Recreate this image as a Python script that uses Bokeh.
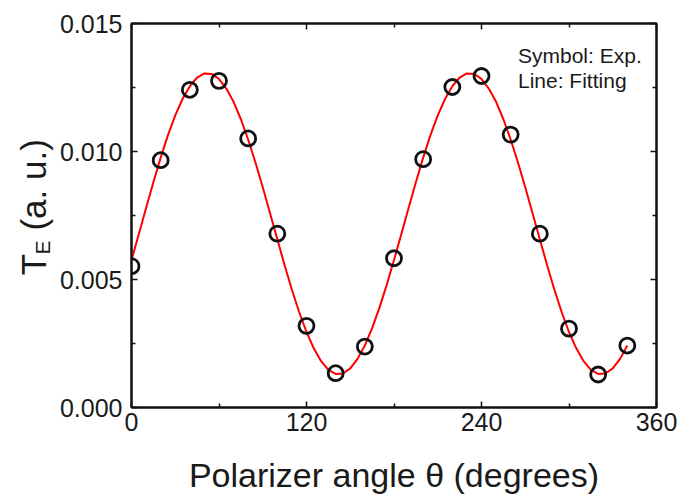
import math
from bokeh.plotting import figure
from bokeh.layouts import row
from bokeh.models import Label, LinearAxis, FixedTicker, NumeralTickFormatter
from bokeh.embed import file_html
from bokeh.resources import INLINE

# ---- data ----
angle_exp = [0, 20, 40, 60, 80, 100, 120, 140, 160, 180, 200, 220, 240, 260, 280, 300, 320, 340]
te_exp = [0.00552, 0.00966, 0.01241, 0.01276, 0.01051, 0.00679, 0.00319, 0.00134, 0.00238,
          0.00583, 0.00970, 0.01252, 0.01295, 0.01066, 0.00679, 0.00308, 0.00129, 0.00242]

angle_fit = [0, 5, 10, 15, 20, 25, 30, 35, 40, 45, 50, 55, 60, 65, 70, 75, 80, 85, 90,
             95, 100, 105, 110, 115, 120, 125, 130, 135, 140, 145, 150, 155, 160, 165, 170, 175,
             180, 185, 190, 195, 200, 205, 210, 215, 220, 225, 230, 235, 240, 245, 250, 255, 260,
             265, 270, 275, 280, 285, 290, 295, 300, 305, 310, 315, 320, 325, 330, 335, 340]
te_fit = [0.00576, 0.00677, 0.00779, 0.00880, 0.00976, 0.01064, 0.01141, 0.01205, 0.01255,
          0.01289, 0.01305, 0.01303, 0.01283, 0.01246, 0.01194, 0.01126, 0.01047, 0.00957,
          0.00860, 0.00759, 0.00657, 0.00556, 0.00460, 0.00372, 0.00295, 0.00231, 0.00181,
          0.00147, 0.00131, 0.00133, 0.00153, 0.00190, 0.00242, 0.00310, 0.00389, 0.00479,
          0.00576, 0.00677, 0.00779, 0.00880, 0.00976, 0.01064, 0.01141, 0.01205, 0.01255,
          0.01289, 0.01305, 0.01303, 0.01283, 0.01246, 0.01194, 0.01126, 0.01047, 0.00957,
          0.00860, 0.00759, 0.00657, 0.00556, 0.00460, 0.00372, 0.00295, 0.00231, 0.00181,
          0.00147, 0.00131, 0.00133, 0.00153, 0.00190, 0.00242]

x_major = [0, 120, 240, 360]
x_minor = [60, 180, 300]
y_major = [0.0, 0.005, 0.010, 0.015]
y_minor = [0.0025, 0.0075, 0.0125]

x_title = "Polarizer angle \u03b8 (degrees)"
y_title_main = "T"
y_title_sub = "E"
y_title_rest = "(a. u.)"
note_lines = ["Symbol: Exp.", "Line: Fitting"]

FONT = "Liberation Sans"
TOTAL_W, TOTAL_H = 677, 496
LABEL_W = 56                 # width of the strip holding the y title
FRAME_LEFT = 131.5           # canvas x of the plot frame's left edge
FRAME_BOTTOM = 410.5         # canvas y of the plot frame's bottom edge

# ---- main plot ----
p = figure(width=TOTAL_W - LABEL_W, height=TOTAL_H, x_range=(0, 360), y_range=(0, 0.015),
           output_backend="svg", toolbar_location=None,
           min_border_left=131 - LABEL_W, min_border_right=21, min_border_top=23,
           min_border_bottom=85)
p.background_fill_color = "white"
p.border_fill_color = "white"
p.grid.visible = False
p.outline_line_color = "#111111"
p.outline_line_width = 2

def style_axis(ax, show_labels):
    ax.axis_line_color = "#111111"
    ax.axis_line_width = 2
    ax.major_tick_in = 6
    ax.major_tick_out = 0
    ax.minor_tick_in = 4
    ax.minor_tick_out = 0
    ax.major_tick_line_color = "#111111"
    ax.minor_tick_line_color = "#111111"
    ax.major_tick_line_width = 1.5
    ax.minor_tick_line_width = 1.5
    ax.major_label_text_font = FONT
    ax.major_label_text_font_size = "25px"
    ax.major_label_text_color = "#1a1a1a" if show_labels else None

p.xaxis.ticker = FixedTicker(ticks=x_major, minor_ticks=x_minor)
p.yaxis.ticker = FixedTicker(ticks=y_major, minor_ticks=y_minor)
p.yaxis.formatter = NumeralTickFormatter(format="0.000")
style_axis(p.xaxis[0], True)
style_axis(p.yaxis[0], True)
p.xaxis.major_label_standoff = 5
p.yaxis.major_label_standoff = 9
p.xaxis.axis_label = x_title
p.xaxis.axis_label_text_font = FONT
p.xaxis.axis_label_text_font_size = "34px"
p.xaxis.axis_label_text_font_style = "normal"
p.xaxis.axis_label_text_color = "#1a1a1a"
p.xaxis.axis_label_text_line_height = 0.8
p.xaxis.axis_label_standoff = 22

top_ax = LinearAxis(ticker=FixedTicker(ticks=x_major, minor_ticks=x_minor))
style_axis(top_ax, False)
top_ax.major_label_text_font_size = "0px"
p.add_layout(top_ax, "above")
right_ax = LinearAxis(ticker=FixedTicker(ticks=y_major, minor_ticks=y_minor))
style_axis(right_ax, False)
right_ax.major_label_text_font_size = "0px"
p.add_layout(right_ax, "right")

# fitted curve and experimental points
p.line(angle_fit, te_fit, line_color="#ff0000", line_width=2)
p.scatter(angle_exp, te_exp, marker="circle", size=15, fill_color=None,
          line_color="#111111", line_width=2.8)

# note in the top right corner (screen units are relative to the frame)
for i, line in enumerate(note_lines):
    p.add_layout(Label(x=518 - FRAME_LEFT, y=FRAME_BOTTOM - (58 + 25 * i),
                       x_units="screen", y_units="screen", text=line,
                       text_font=FONT, text_font_size="21px", text_color="#1a1a1a",
                       text_align="left", text_baseline="alphabetic"))

# ---- left strip sharing the y range: rotated y title with its subscript ----
s = figure(width=LABEL_W, height=TOTAL_H, x_range=(0, LABEL_W), y_range=p.y_range,
           output_backend="svg", toolbar_location=None, title=None,
           x_axis_type=None, y_axis_type=None,
           min_border=0, min_border_left=0, min_border_right=0,
           min_border_top=23, min_border_bottom=85)
s.grid.visible = False
s.outline_line_color = None
s.background_fill_color = "white"
s.border_fill_color = "white"

rot = math.pi / 2
Y_PER_PX = 0.015 / 387.5

def ylab(px, py, text, size_px):
    # rotated text is drawn ~0.3 em to the right of its anchor
    return Label(x=px - 0.3 * size_px, y=(FRAME_BOTTOM - py) * Y_PER_PX, x_units="screen",
                 text=text, angle=rot, text_font=FONT, text_font_size=f"{size_px}px",
                 text_color="#1a1a1a", text_align="left", text_baseline="alphabetic")

s.add_layout(ylab(43, 277, y_title_main, 35))
s.add_layout(ylab(48, 256, y_title_sub, 21))
s.add_layout(ylab(43, 232, y_title_rest, 35))

layout = row(s, p, spacing=0)
open("out.html", "w").write(file_html(layout, INLINE))
